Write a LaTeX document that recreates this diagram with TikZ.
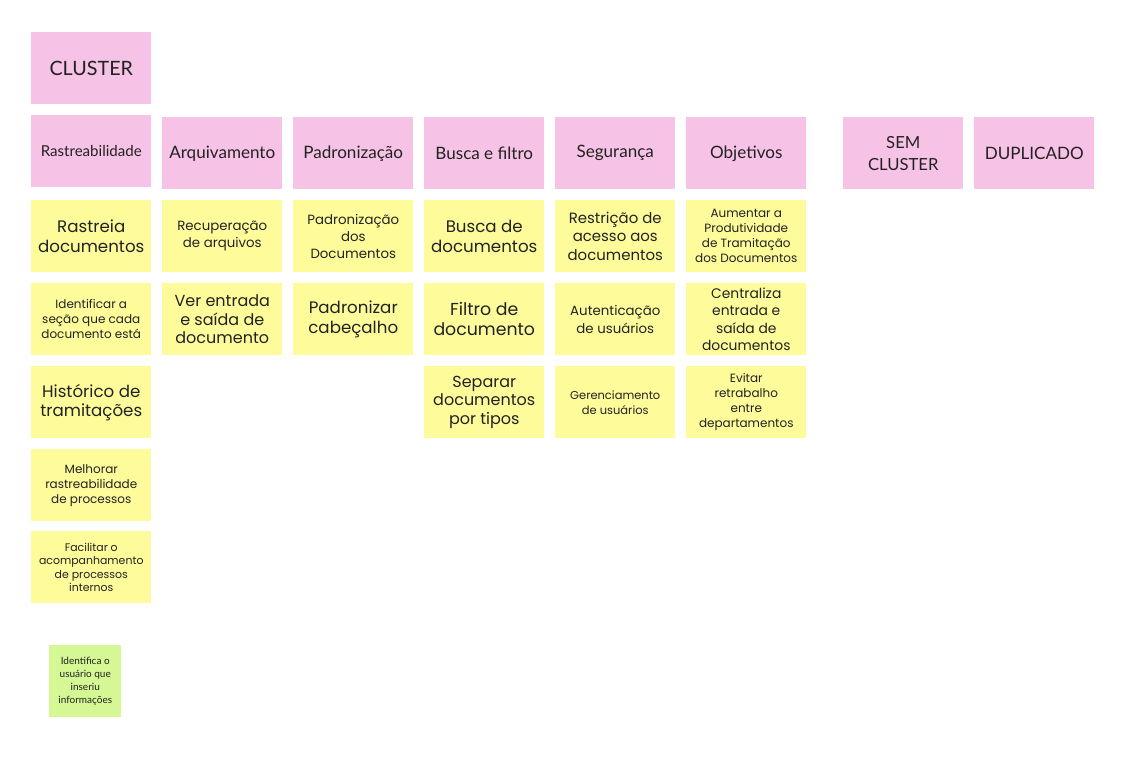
\documentclass[tikz,border=0pt]{standalone}
\usepackage{fontspec}
\setmainfont{Lato}
\newfontfamily\hand{Poppins}
\definecolor{pinkn}{HTML}{F6C3E6}
\definecolor{yel}{HTML}{FEFC9A}
\definecolor{grn}{HTML}{D5F794}
\definecolor{ink}{HTML}{222222}
\newcommand\fsz[2]{\fontsize{#1}{#2}\selectfont}
\tikzset{
  note/.style={minimum width=90pt, minimum height=54pt, inner sep=0pt, align=center, anchor=north west, text=ink},
  hdr/.style={note, fill=pinkn, font=\fsz{12.8pt}{15pt}},
  yl/.style={note, fill=yel},
  big/.style={font=\hand\fsz{12.5pt}{14.5pt}},
  mid/.style={font=\hand\fsz{10pt}{12.8pt}},
  sml/.style={font=\hand\fsz{9pt}{11.2pt}},
  tiny/.style={font=\hand\fsz{8.2pt}{10pt}},
}
\begin{document}
\begin{tikzpicture}[x=0.75pt,y=-0.75pt]
\fill[white] (0,0) rectangle (1122,768);
\useasboundingbox (0,0) rectangle (1122,768);
% headers
\node[hdr, font=\fsz{14.8pt}{17pt}] (cluster) at (31,32) {CLUSTER};
\node[hdr, font=\fsz{11.3pt}{13pt}] (h1) at (31,115) {Rastreabilidade};
\node[hdr] (h2) at (162,117) {Arquivamento};
\node[hdr] (h3) at (293,117) {Padronização};
\node[hdr] (h4) at (424,117) {Busca e filtro};
\node[hdr] (h5) at (555,117) {Segurança};
\node[hdr] (h6) at (686,117) {Objetivos};
\node[hdr, font=\fsz{12.5pt}{16.5pt}] (h7) at (843,117) {SEM\\CLUSTER};
\node[hdr] (h8) at (974,117) {DUPLICADO};
% column 1
\node[yl, big] (a1) at (31,200) {Rastreia\\documentos};
\node[yl, sml] (a2) at (31,283) {Identificar a\\seção que cada\\documento está};
\node[yl, big] (a3) at (31,366) {Histórico de\\tramitações};
\node[yl, sml] (a4) at (31,449) {Melhorar\\rastreabilidade\\de processos};
\node[yl, tiny] (a5) at (31,531) {Facilitar o\\acompanhamento\\de processos\\internos};
% column 2
\node[yl, mid] (b1) at (162,200) {Recuperação\\de arquivos};
\node[yl, big, font=\hand\fsz{12pt}{14pt}] (b2) at (162,283) {Ver entrada\\e saída de\\documento};
% column 3
\node[yl, mid] (c1) at (293,200) {Padronização\\dos\\Documentos};
\node[yl, big] (c2) at (293,283) {Padronizar\\cabeçalho};
% column 4
\node[yl, big] (d1) at (424,200) {Busca de\\documentos};
\node[yl, big, font=\hand\fsz{13pt}{15pt}] (d2) at (424,283) {Filtro de\\documento};
\node[yl, big, font=\hand\fsz{12pt}{14pt}] (d3) at (424,366) {Separar\\documentos\\por tipos};
% column 5
\node[yl, big, font=\hand\fsz{11.2pt}{14pt}] (e1) at (555,200) {Restrição de\\acesso aos\\documentos};
\node[yl, mid, font=\hand\fsz{10pt}{13.5pt}] (e2) at (555,283) {Autenticação\\de usuários};
\node[yl, tiny, font=\hand\fsz{8.6pt}{11.2pt}] (e3) at (555,366) {Gerenciamento\\de usuários};
% column 6
\node[yl, sml] (f1) at (686,200) {Aumentar a\\Produtividade\\de Tramitação\\dos Documentos};
\node[yl, mid, font=\hand\fsz{10.4pt}{13pt}] (f2) at (686,283) {Centraliza\\entrada e\\saída de\\documentos};
\node[yl, sml] (f3) at (686,366) {Evitar\\retrabalho\\entre\\departamentos};
% green
\node[note, fill=grn, minimum width=54pt, font=\fsz{7.5pt}{9.8pt}] (g1) at (49,645) {Identifica o\\usuário que\\inseriu\\informações};
\end{tikzpicture}
\end{document}
